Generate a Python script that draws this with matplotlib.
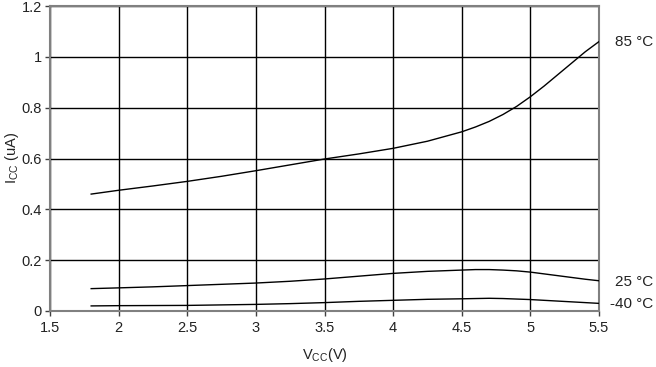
import matplotlib
matplotlib.use("Agg")
import matplotlib.pyplot as plt

plt.rcParams['font.family'] = ['Liberation Sans', 'DejaVu Sans']

vcc = [1.8, 2.0, 2.25, 2.5, 2.75, 3.0, 3.25, 3.5, 3.75, 4.0, 4.25, 4.5, 4.6, 4.7, 4.8, 4.9, 5.0, 5.1, 5.2, 5.3, 5.4, 5.5]
i_85 = [0.46, 0.475, 0.492, 0.51, 0.53, 0.552, 0.575, 0.598, 0.618, 0.64, 0.668, 0.705, 0.724, 0.746, 0.773, 0.805, 0.843, 0.885, 0.93, 0.975, 1.02, 1.06]
i_25 = [0.088, 0.091, 0.095, 0.10, 0.105, 0.11, 0.117, 0.126, 0.137, 0.148, 0.156, 0.161, 0.163, 0.163, 0.161, 0.158, 0.153, 0.146, 0.139, 0.132, 0.125, 0.119]
i_m40 = [0.02, 0.021, 0.0215, 0.022, 0.024, 0.026, 0.029, 0.033, 0.038, 0.042, 0.046, 0.048, 0.049, 0.05, 0.049, 0.047, 0.045, 0.042, 0.039, 0.036, 0.033, 0.03]
labels = ["85 °C", "25 °C", "-40 °C"]
label_vals = [1.058, 0.114, 0.028]
x_ticks = [1.5, 2, 2.5, 3, 3.5, 4, 4.5, 5, 5.5]
x_tick_labels = ["1.5", "2", "2.5", "3", "3.5", "4", "4.5", "5", "5.5"]
y_ticks = [0, 0.2, 0.4, 0.6, 0.8, 1.0, 1.2]
y_tick_labels = ["0", "0.2", "0.4", "0.6", "0.8", "1", "1.2"]

W, H = 656, 367
fig = plt.figure(figsize=(W / 100, H / 100), dpi=100)
ax = fig.add_axes([50 / W, 1 - 311 / H, 549 / W, 305 / H])

for ys in (i_85, i_25, i_m40):
    ax.plot(vcc, ys, color='black', lw=1.0, zorder=3)

ax.set_xlim(1.5, 5.5)
ax.set_ylim(0, 1.2)
ax.set_xticks(x_ticks)
ax.set_xticklabels(x_tick_labels)
ax.set_yticks(y_ticks)
ax.set_yticklabels(y_tick_labels)
ax.grid(True, color='black', lw=1.0)
ax.set_axisbelow(True)
for s in ax.spines.values():
    s.set_color('#808080')
    s.set_linewidth(1.5)
ax.tick_params(axis='both', length=3.5, width=1, color='#404040', labelsize=10.5, labelcolor='#222222', pad=2.5)
ax.tick_params(axis='x', pad=4)

fig.text(325 / W, 1 - 355 / H, r"V$_{\mathregular{CC}}$(V)", fontsize=10.5, color='#222222', ha='center', va='center')
fig.text(12 / W, 1 - 158 / H, r"I$_{\mathregular{CC}}$ (uA)", fontsize=10.5, color='#222222', ha='center', va='center', rotation=90)

for lab, yv in zip(labels, label_vals):
    ax.annotate(lab, xy=(653 / W, yv), xycoords=('figure fraction', 'data'),
                ha='right', va='center', fontsize=11, color='#222222', annotation_clip=False)

fig.savefig("out.png", dpi=100)
